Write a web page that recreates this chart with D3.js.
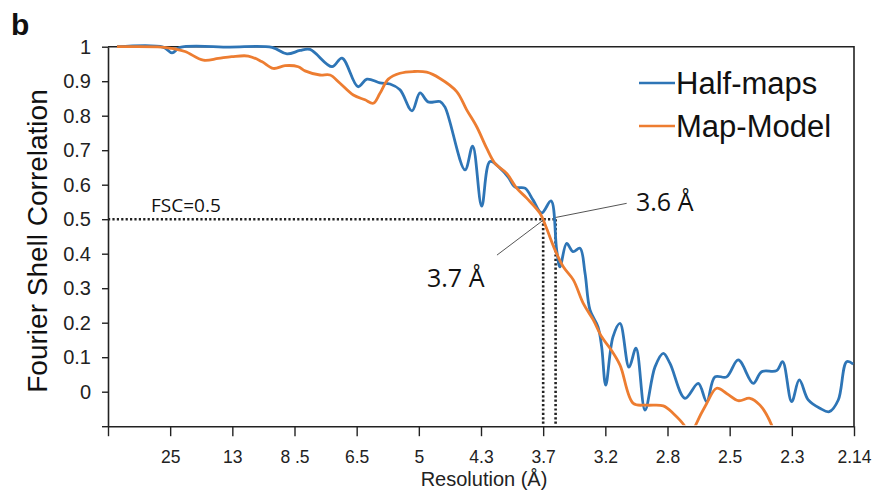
<!DOCTYPE html>
<html>
<head>
<meta charset="utf-8">
<script src="https://cdn.jsdelivr.net/npm/d3@7"></script>
<style>
  body { margin: 0; background: #fff; }
  svg { display: block; }
</style>
</head>
<body>
<svg id="chart" width="875" height="493"></svg>
<script>
// x positions are in shell-index units (one unit per labelled tick)
const resLabels = ['25', '13', '8 .5', '6.5', '5', '4.3', '3.7', '3.2', '2.8', '2.5', '2.3', '2.14'];
const yTicks = [-0.1, 0, 0.1, 0.2, 0.3, 0.4, 0.5, 0.6, 0.7, 0.8, 0.9, 1];

const halfX = [0.145, 0.885, 1.03, 1.158, 1.96, 2.638, 2.879, 3.088, 3.249, 3.603, 3.764, 4.021, 4.166, 4.375,
  4.536, 4.697, 4.89, 5.019, 5.148, 5.341, 5.421, 5.743, 5.866, 6.011, 6.145, 6.305, 6.434, 6.547, 6.707,
  6.836, 6.976, 7.126, 7.217, 7.27, 7.378, 7.48, 7.592, 7.673, 7.753, 7.882, 7.941, 8.006, 8.123, 8.236,
  8.381, 8.493, 8.638, 8.799, 8.932, 9.04, 9.281, 9.495, 9.63, 9.763, 9.951, 10.138, 10.379, 10.514,
  10.755, 10.852, 10.997, 11.12, 11.264, 11.452, 11.602, 11.747, 11.882, 11.988];
const halfFSC = [1.0, 0.999, 0.982, 0.998, 0.999, 0.998, 0.979, 0.989, 0.992, 0.942, 0.967, 0.884, 0.906, 0.895,
  0.892, 0.875, 0.814, 0.866, 0.84, 0.841, 0.825, 0.643, 0.712, 0.538, 0.667, 0.648, 0.623, 0.593, 0.59,
  0.556, 0.518, 0.553, 0.411, 0.362, 0.43, 0.406, 0.416, 0.344, 0.237, 0.188, 0.13, 0.019, 0.159, 0.198,
  0.071, 0.126, -0.053, 0.072, 0.111, 0.082, -0.019, 0.024, -0.029, 0.043, 0.043, 0.092, 0.024, 0.058,
  0.061, 0.087, -0.029, 0.034, -0.024, -0.048, -0.058, -0.024, 0.087, 0.08];

const modelX = [0.145, 0.864, 1.025, 1.239, 1.533, 1.774, 1.99, 2.257, 2.472, 2.659, 2.847, 3.061, 3.169, 3.41,
  3.571, 3.732, 3.946, 4.134, 4.267, 4.375, 4.509, 4.697, 4.911, 5.126, 5.34, 5.609, 5.77, 5.931, 6.091,
  6.225, 6.413, 6.574, 6.735, 6.949, 7.045, 7.19, 7.324, 7.485, 7.645, 7.806, 7.941, 8.075, 8.236, 8.45,
  8.665, 8.932, 9.093, 9.281, 9.36, 9.442, 9.63, 9.791, 9.951, 10.138, 10.326, 10.487, 10.675, 10.74];
const modelFSC = [1.0, 0.999, 0.995, 0.986, 0.961, 0.966, 0.971, 0.973, 0.957, 0.937, 0.945, 0.942, 0.93, 0.918,
  0.918, 0.894, 0.86, 0.846, 0.836, 0.865, 0.906, 0.923, 0.928, 0.926, 0.908, 0.87, 0.817, 0.768, 0.706,
  0.662, 0.633, 0.59, 0.561, 0.517, 0.478, 0.411, 0.362, 0.324, 0.256, 0.208, 0.159, 0.126, 0.077, -0.034,
  -0.039, -0.041, -0.063, -0.101, -0.14, -0.101, -0.034, 0.01, -0.005, -0.026, -0.019, -0.039, -0.097, -0.14];

const seriesNames = ['Half-maps', 'Map-Model'];
const seriesColors = ['#2e75b6', '#ed7d31'];
const cutHalf = 7.2, cutModel = 7.0;   // FSC = 0.5 crossings
const cutLabels = ['3.6 Å', '3.7 Å'];

const svg = d3.select('#chart');
const x = d3.scaleLinear().domain([0, 12]).range([108, 854]);
const y = d3.scaleLinear().domain([-0.1, 1]).range([426.2, 46.7]);

svg.append('defs').append('clipPath').attr('id', 'plot')
  .append('rect').attr('x', x(0)).attr('y', y(1) - 3)
  .attr('width', x(12) - x(0)).attr('height', y(-0.1) - y(1) + 2);

// frame top and right
svg.append('path')
  .attr('d', `M${x(0)},${y(1)}H${x(12)}V${y(-0.1)}`)
  .attr('fill', 'none').attr('stroke', '#222').attr('stroke-width', 1.6);

// y axis
const yAxis = svg.append('g').attr('transform', `translate(${x(0)},0)`)
  .call(d3.axisLeft(y).tickValues(yTicks).tickSize(6).tickSizeOuter(0)
    .tickFormat(d => d < -0.05 ? '' : d3.format('')(+d.toFixed(1))));
yAxis.select('.domain').attr('stroke', '#222').attr('stroke-width', 1.6);
yAxis.selectAll('.tick line').attr('stroke', '#222').attr('stroke-width', 1.4);
yAxis.selectAll('.tick text').attr('x', -17)
  .style('font-family', 'Liberation Sans, Arial, sans-serif').style('font-size', '20px').attr('fill', '#222');

// x axis
const xAxis = svg.append('g').attr('transform', `translate(0,${y(-0.1)})`)
  .call(d3.axisBottom(x).tickValues(d3.range(0, 13)).tickSize(10).tickSizeOuter(0)
    .tickFormat(d => d === 0 ? '' : resLabels[d - 1]));
xAxis.select('.domain').attr('stroke', '#222').attr('stroke-width', 1.6);
xAxis.selectAll('.tick line').attr('stroke', '#222').attr('stroke-width', 1.4);
xAxis.selectAll('.tick text').attr('y', 24)
  .style('font-family', 'Liberation Sans, Arial, sans-serif').style('font-size', '17.5px').attr('fill', '#222');

// FSC = 0.5 guides
const dots = svg.append('g').attr('fill', 'none').attr('stroke', '#222')
  .attr('stroke-width', 2.6).attr('stroke-dasharray', '2.2,2.2');
dots.append('line').attr('x1', x(0)).attr('x2', x(cutHalf)).attr('y1', y(0.5)).attr('y2', y(0.5));
[cutModel, cutHalf].forEach(c => {
  dots.append('line').attr('x1', x(c)).attr('x2', x(c)).attr('y1', y(0.5)).attr('y2', y(-0.1));
});

// curves
const line = d3.line().x(d => x(d[0])).y(d => y(d[1])).curve(d3.curveCatmullRom.alpha(0.5));
const curves = svg.append('g').attr('clip-path', 'url(#plot)');
[[halfX, halfFSC], [modelX, modelFSC]].forEach((s, i) => {
  curves.append('path')
    .datum(d3.zip(s[0], s[1]))
    .attr('d', line)
    .attr('fill', 'none')
    .attr('stroke', seriesColors[i])
    .attr('stroke-width', 2.8)
    .attr('stroke-linejoin', 'round');
});

// leader lines and labels
svg.append('line').attr('x1', x(cutHalf)).attr('y1', y(0.505)).attr('x2', x(8.343)).attr('y2', y(0.546))
  .attr('stroke', '#555').attr('stroke-width', 1);
svg.append('line').attr('x1', x(cutModel)).attr('y1', y(0.497)).attr('x2', x(6.257)).attr('y2', y(0.396))
  .attr('stroke', '#555').attr('stroke-width', 1);

const lbl = svg.append('g').style('font-family', 'Open Sans, Noto Sans, sans-serif').attr('fill', '#111');
lbl.append('text').attr('x', 636).attr('y', 211).style('font-size', '25px').text(cutLabels[0]);
lbl.append('text').attr('x', 427).attr('y', 287).style('font-size', '25px').text(cutLabels[1]);
lbl.append('text').attr('x', 151).attr('y', 212).style('font-size', '19px').text('FSC=0.5');

// legend
const leg = svg.append('g');
seriesNames.forEach((n, i) => {
  const ly = 83 + i * 43;
  leg.append('line').attr('x1', 639).attr('x2', 675).attr('y1', ly).attr('y2', ly)
    .attr('stroke', seriesColors[i]).attr('stroke-width', 2.6);
  leg.append('text').attr('x', 676).attr('y', ly + 10.5)
    .style('font-family', 'Liberation Sans, Arial, sans-serif').style('font-size', '31px')
    .attr('fill', '#111').text(n);
});

// titles
svg.append('text').attr('transform', 'translate(47,241) rotate(-90)').attr('text-anchor', 'middle')
  .style('font-family', 'Liberation Sans, Arial, sans-serif').style('font-size', '28px')
  .attr('fill', '#111').text('Fourier Shell Correlation');
svg.append('text').attr('x', 484).attr('y', 486).attr('text-anchor', 'middle')
  .style('font-family', 'Liberation Sans, Arial, sans-serif').style('font-size', '20px')
  .attr('fill', '#222').text('Resolution (Å)');
svg.append('text').attr('x', 11).attr('y', 35)
  .style('font-family', 'Liberation Sans, Arial, sans-serif').style('font-size', '30px')
  .style('font-weight', 'bold').attr('fill', '#111').text('b');
</script>
</body>
</html>
